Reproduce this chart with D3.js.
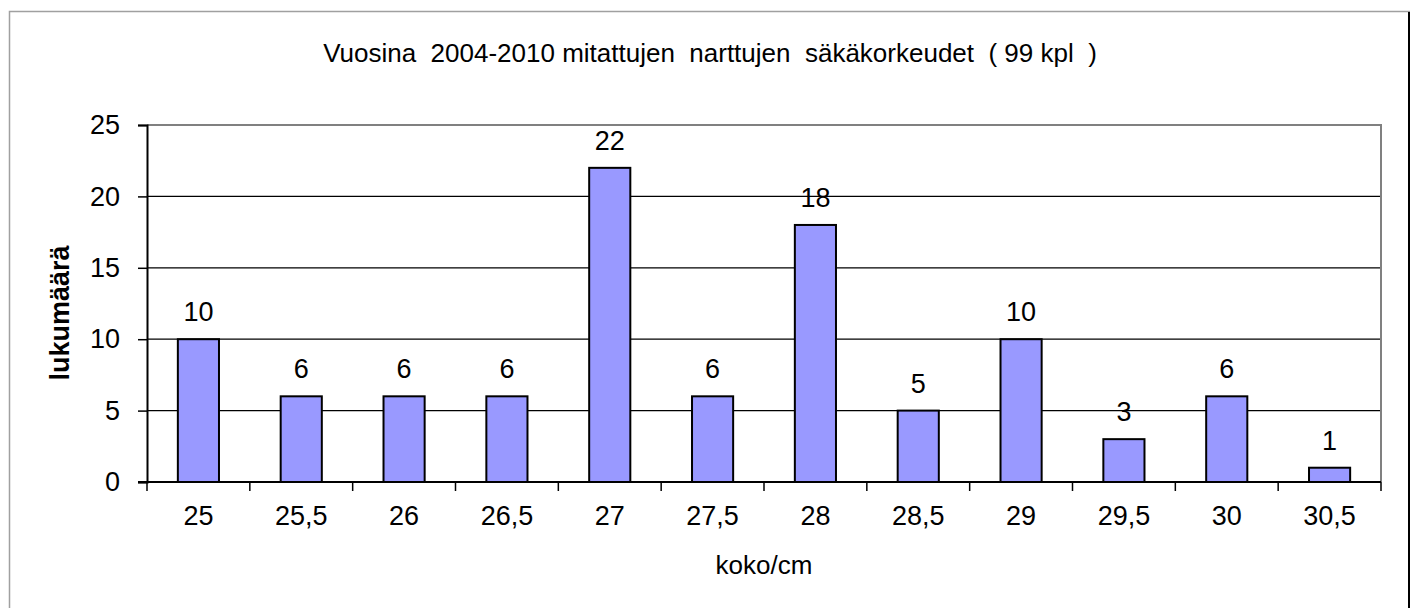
<!DOCTYPE html>
<html>
<head>
<meta charset="utf-8">
<script src="https://cdn.jsdelivr.net/npm/d3@7"></script>
<style>
  body { margin: 0; background: #fff; }
  text { font-family: "Liberation Sans", Arial, sans-serif; fill: #000; }
</style>
</head>
<body>
<div id="chart"></div>
<script>
// chart data
const sizes = ["25", "25,5", "26", "26,5", "27", "27,5", "28", "28,5", "29", "29,5", "30", "30,5"];
const counts = [10, 6, 6, 6, 22, 6, 18, 5, 10, 3, 6, 1];
const yTicks = [0, 5, 10, 15, 20, 25];

const title = "Vuosina  2004-2010 mitattujen  narttujen  säkäkorkeudet  ( 99 kpl  )";
const xTitle = "koko/cm";
const yTitle = "lukumäärä";

const width = 1410, height = 608;
const plot = { left: 147, right: 1381, top: 125, bottom: 482 };

const svg = d3.select("#chart")
    .append("svg")
    .attr("width", width)
    .attr("height", height);

// outer chart frame
svg.append("rect")
    .attr("x", 9.5).attr("y", 11.5)
    .attr("width", 1420).attr("height", 700)
    .attr("fill", "#fff")
    .attr("stroke", "#a0a0a0")
    .attr("stroke-width", 1.5);
svg.append("line")
    .attr("x1", 1409).attr("x2", 1409)
    .attr("y1", 12).attr("y2", height)
    .attr("stroke", "#000").attr("stroke-width", 2);

const x = d3.scaleBand()
    .domain(sizes)
    .range([plot.left, plot.right])
    .paddingInner(0.6)
    .paddingOuter(0.3);

const y = d3.scaleLinear()
    .domain([0, 25])
    .range([plot.bottom, plot.top]);

// horizontal gridlines
svg.append("g")
    .selectAll("line")
    .data(yTicks.filter(d => d > 0 && d < 25))
    .join("line")
    .attr("x1", plot.left).attr("x2", plot.right)
    .attr("y1", d => y(d)).attr("y2", d => y(d))
    .attr("stroke", "#000")
    .attr("stroke-width", 1.2);

// plot area border (top and right)
svg.append("path")
    .attr("d", `M${plot.left},${y(25)}H${plot.right}V${plot.bottom}`)
    .attr("fill", "none")
    .attr("stroke", "#808080")
    .attr("stroke-width", 2);

// bars
svg.append("g")
    .selectAll("rect")
    .data(counts)
    .join("rect")
    .attr("x", (d, i) => x(sizes[i]))
    .attr("y", d => y(d))
    .attr("width", x.bandwidth())
    .attr("height", d => y(0) - y(d))
    .attr("fill", "#9999ff")
    .attr("stroke", "#000")
    .attr("stroke-width", 2);

// value labels
svg.append("g")
    .selectAll("text")
    .data(counts)
    .join("text")
    .attr("x", (d, i) => x(sizes[i]) + x.bandwidth() / 2)
    .attr("y", d => y(d) - 18)
    .attr("text-anchor", "middle")
    .attr("font-size", 27)
    .text(d => d);

// y axis
const yAxis = svg.append("g")
    .attr("transform", `translate(${plot.left},0)`)
    .call(d3.axisLeft(y).tickValues(yTicks).tickSize(9).tickPadding(18));
yAxis.select(".domain").attr("stroke", "#000").attr("stroke-width", 2);
yAxis.selectAll(".tick line").attr("stroke", "#000").attr("stroke-width", 1.5);
yAxis.selectAll(".tick text")
    .attr("font-size", 27)
    .attr("font-family", "Liberation Sans, Arial, sans-serif")
    .attr("fill", "#000");

// x axis line and tick marks at category boundaries
svg.append("line")
    .attr("x1", plot.left - 9).attr("x2", plot.right)
    .attr("y1", plot.bottom).attr("y2", plot.bottom)
    .attr("stroke", "#000").attr("stroke-width", 2);

const boundaries = sizes.map(s => x(s) - x.step() * x.paddingInner() / 2)
    .concat([plot.right]);
svg.append("g")
    .selectAll("line")
    .data(boundaries)
    .join("line")
    .attr("x1", d => d).attr("x2", d => d)
    .attr("y1", plot.bottom).attr("y2", plot.bottom + 9)
    .attr("stroke", "#000").attr("stroke-width", 1.5);

svg.append("g")
    .selectAll("text")
    .data(sizes)
    .join("text")
    .attr("x", d => x(d) + x.bandwidth() / 2)
    .attr("y", 525)
    .attr("text-anchor", "middle")
    .attr("font-size", 27)
    .text(d => d);

// titles
svg.append("text")
    .attr("x", 710)
    .attr("y", 62)
    .attr("text-anchor", "middle")
    .attr("font-size", 26)
    .style("white-space", "pre")
    .text(title);

svg.append("text")
    .attr("x", (plot.left + plot.right) / 2)
    .attr("y", 574)
    .attr("text-anchor", "middle")
    .attr("font-size", 26)
    .text(xTitle);

svg.append("text")
    .attr("transform", "translate(69,313) rotate(-90)")
    .attr("text-anchor", "middle")
    .attr("font-size", 27)
    .attr("font-weight", "bold")
    .text(yTitle);
</script>
</body>
</html>
